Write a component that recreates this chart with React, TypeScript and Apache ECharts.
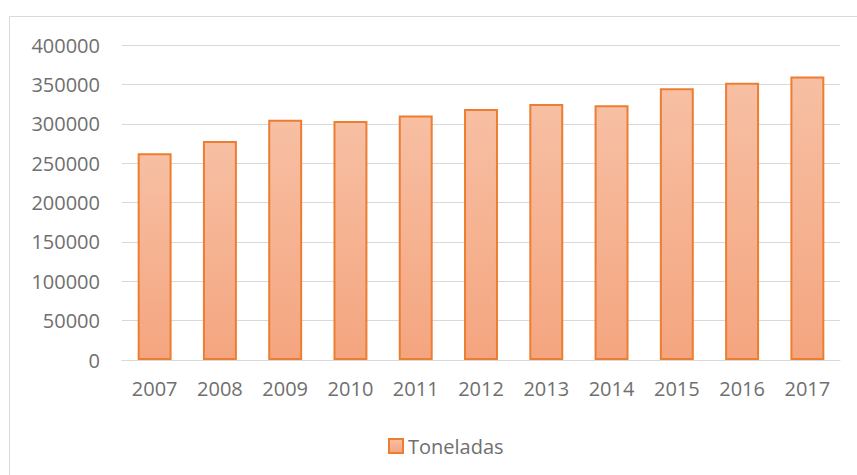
import React, { useEffect, useRef } from "react";
import * as echarts from "echarts";

const years = ["2007", "2008", "2009", "2010", "2011", "2012", "2013", "2014", "2015", "2016", "2017"];
const toneladas = [262500, 278000, 305000, 303500, 310500, 318800, 325000, 323500, 345000, 352200, 360000];
const seriesName = "Toneladas";

export default function App() {
  const ref = useRef<HTMLDivElement>(null);
  useEffect(() => {
    if (!ref.current) return;
    const chart = echarts.init(ref.current, null, { renderer: "svg" });
    const grad = new echarts.graphic.LinearGradient(0, 0, 0, 1, [
      { offset: 0, color: "#F7BFA3" },
      { offset: 1, color: "#F4A57F" },
    ]);
    const textColor = "#6F6F6F";
    chart.setOption({
      animation: false,
      backgroundColor: "#ffffff",
      textStyle: { fontFamily: "Open Sans" },
      graphic: [
        {
          type: "rect",
          shape: { x: 9.5, y: 16.5, width: 900, height: 500 },
          style: { fill: "none", stroke: "#D9D9D9", lineWidth: 1 },
          silent: true,
        },
      ],
      grid: { left: 122, right: 17, top: 45, bottom: 115 },
      legend: {
        data: [seriesName],
        top: 431,
        left: 383,
        icon: "rect",
        itemWidth: 14,
        itemHeight: 14,
        itemGap: 8,
        textStyle: { fontSize: 20, color: textColor, fontFamily: "Open Sans" },
      },
      xAxis: {
        type: "category",
        data: years,
        axisLine: { show: true, lineStyle: { color: "#D9D9D9", width: 1 } },
        axisTick: { show: false },
        axisLabel: { color: textColor, fontSize: 20, margin: 18, fontFamily: "Open Sans" },
      },
      yAxis: {
        type: "value",
        min: 0,
        max: 400000,
        interval: 50000,
        axisLine: { show: false },
        axisTick: { show: false },
        splitLine: { lineStyle: { color: "#D9D9D9", width: 1 } },
        axisLabel: {
          color: textColor,
          fontSize: 20,
          margin: 22,
          fontFamily: "Open Sans",
          formatter: (v: number) => String(v),
        },
      },
      series: [
        {
          name: seriesName,
          type: "bar",
          data: toneladas,
          barWidth: "52%",
          itemStyle: { color: grad, borderColor: "#ED7D31", borderWidth: 2 },
        },
      ],
    });
    return () => chart.dispose();
  }, []);
  return (
    <div
      ref={ref}
      style={{ position: "absolute", left: 0, top: 0, width: 857, height: 475 }}
    />
  );
}
